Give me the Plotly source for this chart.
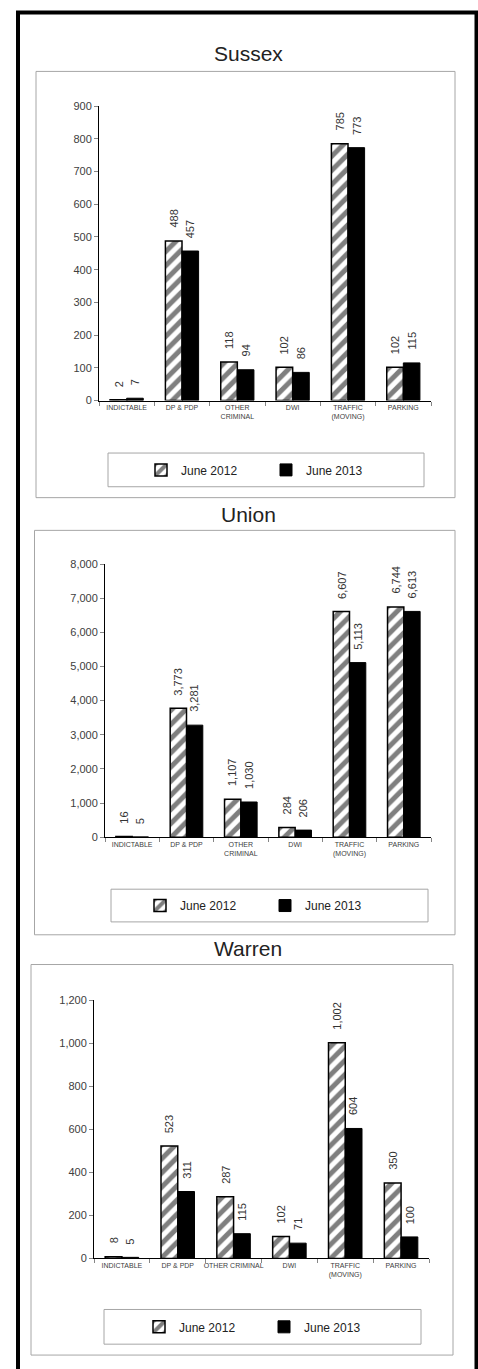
import plotly.graph_objects as go

W, H = 478, 1369

titles = ["Sussex", "Union", "Warren"]
series_names = ["June 2012", "June 2013"]
cats_two_line = ["INDICTABLE", "DP & PDP", "OTHER<br>CRIMINAL", "DWI", "TRAFFIC<br>(MOVING)", "PARKING"]
cats_warren = ["INDICTABLE", "DP & PDP", "OTHER CRIMINAL", "DWI", "TRAFFIC<br>(MOVING)", "PARKING"]

sussex_2012 = [2, 488, 118, 102, 785, 102]
sussex_2013 = [7, 457, 94, 86, 773, 115]
union_2012 = [16, 3773, 1107, 284, 6607, 6744]
union_2013 = [5, 3281, 1030, 206, 5113, 6613]
warren_2012 = [8, 523, 287, 102, 1002, 350]
warren_2013 = [5, 311, 115, 71, 604, 100]

y_max = [900, 8000, 1200]
y_dtick = [100, 1000, 200]


def fx(x):
    return x / W


def fy(y):
    return 1 - y / H


FONT = "Liberation Sans, Arial, sans-serif"

panels = [
    dict(cats=cats_two_line, v12=sussex_2012, v13=sussex_2013,
         xd=(99, 431), yd=(101, 398), frame=(36, 66, 455, 496),
         lbox=(108, 451, 424, 485), title_y=48, leg_x=141),
    dict(cats=cats_two_line, v12=union_2012, v13=union_2013,
         xd=(105, 431), yd=(563, 838.5), frame=(34.5, 529, 455, 937),
         lbox=(111, 891, 428, 924), title_y=513, leg_x=140),
    dict(cats=cats_warren, v12=warren_2012, v13=warren_2013,
         xd=(94, 429), yd=(1003, 1263.5), frame=(31, 967, 453, 1361),
         lbox=(104, 1315, 421, 1350), title_y=951, leg_x=139),
]

fig = go.Figure()
shapes = []
annotations = []
layout_extra = {}

for i, p in enumerate(panels):
    n = "" if i == 0 else str(i + 1)
    xa, ya = "x" + n, "y" + n
    leg = "legend" + n
    fig.add_trace(go.Bar(
        x=p["cats"], y=p["v12"], name=series_names[0], xaxis=xa, yaxis=ya,
        legend=leg,
        marker=dict(color="white", line=dict(color="black", width=1.5),
                    pattern=dict(shape="/", fgcolor="black", bgcolor="white",
                                 size=10, solidity=0.5)),
        hoverinfo="skip"))
    fig.add_trace(go.Bar(
        x=p["cats"], y=p["v13"], name=series_names[1], xaxis=xa, yaxis=ya,
        legend=leg,
        marker=dict(color="black", line=dict(color="black", width=1)),
        hoverinfo="skip"))

    # value labels
    cat_w = (p["xd"][1] - p["xd"][0]) / 6
    off = cat_w * 0.6 / 4
    for vals, sh in ((p["v12"], -off), (p["v13"], off)):
        for c, v in zip(p["cats"], vals):
            annotations.append(dict(
                x=c, y=v, xref=xa, yref=ya, text=f"{v:,}", showarrow=False,
                textangle=-90, xanchor="center", yanchor="bottom",
                xshift=sh, yshift=11,
                font=dict(family=FONT, size=11, color="#333333")))

    layout_extra["xaxis" + n] = dict(
        domain=[fx(p["xd"][0]), fx(p["xd"][1])], anchor=ya,
        showline=True, linecolor="black", linewidth=1,
        ticks="outside", tickson="boundaries", ticklen=4, tickcolor="#868686",
        tickfont=dict(family=FONT, size=7, color="#404040"),
        showgrid=False, fixedrange=True, tickangle=0)
    layout_extra["yaxis" + n] = dict(
        domain=[fy(p["yd"][1]), fy(p["yd"][0])], anchor=xa,
        range=[0, y_max[i]], dtick=y_dtick[i], tickformat=",",
        showline=True, linecolor="black", linewidth=1,
        ticks="outside", ticklen=4, tickcolor="#868686",
        tickfont=dict(family=FONT, size=11, color="#404040"),
        showgrid=False, zeroline=False, fixedrange=True)

    lx0, ly0, lx1, ly1 = p["lbox"]
    layout_extra[leg] = dict(
        orientation="h", x=fx(p["leg_x"]), xanchor="left",
        y=fy((ly0 + ly1) / 2), yanchor="middle",
        entrywidth=80, entrywidthmode="pixels",
        font=dict(family=FONT, size=12, color="#222222"),
        bgcolor="rgba(0,0,0,0)", borderwidth=0, itemwidth=30)

    # frames
    x0, y0, x1, y1 = p["frame"]
    shapes.append(dict(type="rect", xref="paper", yref="paper",
                       x0=fx(x0), x1=fx(x1), y0=fy(y1), y1=fy(y0),
                       line=dict(color="#a6a6a6", width=1), layer="below"))
    shapes.append(dict(type="rect", xref="paper", yref="paper",
                       x0=fx(lx0), x1=fx(lx1), y0=fy(ly1), y1=fy(ly0),
                       line=dict(color="#a6a6a6", width=1), layer="below"))
    annotations.append(dict(
        x=fx(248), y=fy(p["title_y"]), xref="paper", yref="paper",
        text=titles[i], showarrow=False, xanchor="center", yanchor="middle",
        font=dict(family=FONT, size=21, color="#222222")))

# outer black border
shapes.append(dict(type="rect", xref="paper", yref="paper",
                   x0=fx(18), x1=fx(476.5), y0=fy(1380), y1=fy(6.5),
                   line=dict(color="black", width=4)))

fig.update_layout(
    width=W, height=H, autosize=False,
    margin=dict(l=0, r=0, t=0, b=0),
    paper_bgcolor="white", plot_bgcolor="white",
    barmode="group", bargap=0.4, bargroupgap=0,
    shapes=shapes, annotations=annotations,
    showlegend=True,
    **layout_extra)

fig.write_html(
    "out.html",
    config={"displayModeBar": False},
    post_script="document.body.style.margin='0';document.body.style.overflow='hidden';",
)
